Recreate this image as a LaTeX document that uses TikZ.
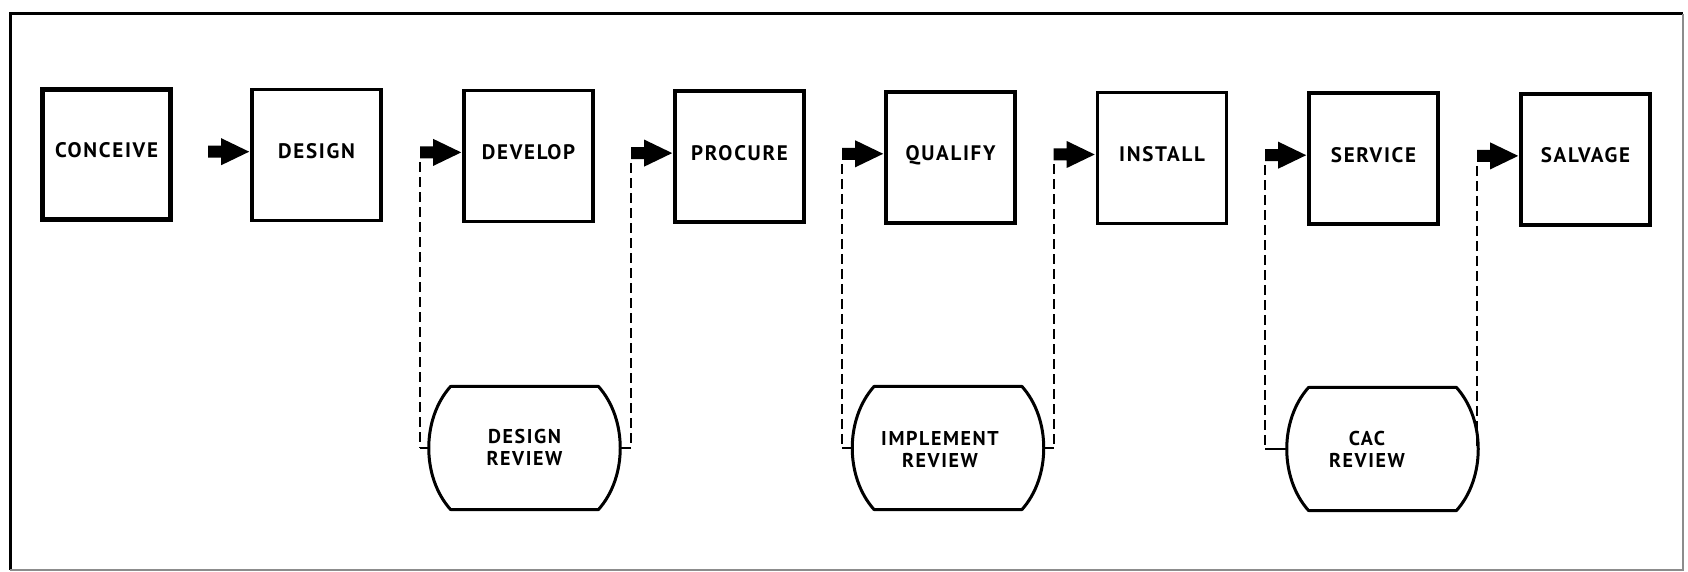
\documentclass[tikz,border=0pt]{standalone}
\usepackage{fontspec}
\setmainfont{PT Sans}[LetterSpace=8]
\usetikzlibrary{calc}
\begin{document}
\begin{tikzpicture}[x=0.5pt,y=-0.5pt,
  stage/.style={draw, line width=1.8pt, minimum width=64.5pt, minimum height=65.5pt,
    inner sep=0pt, text depth=4pt, font=\bfseries\fontsize{10.5}{11.5}\selectfont},
  review/.style={minimum width=95pt, minimum height=61.5pt, inner sep=0pt},
  revline/.style={line width=1.5pt, line join=round},
  revlabel/.style={align=center, inner sep=0pt, font=\bfseries\fontsize{10}{11}\selectfont},
  flowhead/.style={fill=black},
  trace/.style={line width=1pt, dash pattern=on 5pt off 2.5pt},
  tie/.style={line width=1pt}]

\useasboundingbox (0,0) rectangle (1688,572);

% outer frame
\draw[line width=1.5pt] (10,570) -- (10,14) -- (1683,14);
\draw[line width=1pt, black!45] (1683,14) -- (1683,570) -- (10,570);

% life-cycle stages
\node[stage, line width=2.5pt, minimum width=64pt, minimum height=65pt] (con) at (106.5,154.5) {CONCEIVE};
\node[stage] (des) at (316.5,155.2) {DESIGN};
\node[stage] (dev) at (528.5,155.9) {DEVELOP};
\node[stage] (pro) at (739.5,156.6) {PROCURE};
\node[stage] (qua) at (950.5,157.3) {QUALIFY};
\node[stage] (ins) at (1162,158) {INSTALL};
\node[stage] (ser) at (1373.5,158.7) {SERVICE};
\node[stage] (sal) at (1585.5,159.4) {SALVAGE};

% review stations
\node[review] (dr) at (524.5,448) {};
\node[review] (ir) at (948,448) {};
\node[review] (cr) at (1382.5,449) {};
\node[revlabel] (drl) at (524.5,447.5) {DESIGN\\REVIEW};
\node[revlabel] (irl) at (940,449.5) {IMPLEMENT\\REVIEW};
\node[revlabel] (crl) at (1367,449.5) {CAC\\REVIEW};

\foreach \r in {dr,ir,cr}{
  \begin{scope}[shift={(\r.center)}]
    \draw[revline] (-74,-61.5) -- (74,-61.5)
      .. controls (103,-29) and (103,29) .. (74,61.5)
      -- (-74,61.5)
      .. controls (-103,29) and (-103,-29) .. cycle;
  \end{scope}
}

% block arrows between stages: tip on the next stage, tail 41 units back
\foreach \a/\b [count=\i] in {con/des,des/dev,dev/pro,pro/qua,qua/ins,ins/ser,ser/sal}{
  \coordinate (t\i) at ($(\b.west)+(-1,-3.5)$);
  \coordinate (s\i) at ($(t\i)+(-41,0)$);
  \fill[flowhead] ($(s\i)+(0,-6)$) -- ($(s\i)+(13,-6)$) -- ($(s\i)+(13,-13.5)$)
    -- (t\i) -- ($(s\i)+(13,13.5)$) -- ($(s\i)+(13,6)$) -- ($(s\i)+(0,6)$) -- cycle;
}

% review traces from the arrow tails down to the review stations
\foreach \i/\r/\side in {2/dr/west,3/dr/east,4/ir/west,5/ir/east,6/cr/west,7/cr/east}{
  \coordinate (d\i) at ($(s\i)+(0,10)$);
  \coordinate (c\i) at (s\i |- \r.\side);
  \draw[trace] (d\i) -- (c\i);
  \draw[tie] (c\i) -- (\r.\side);
}
\end{tikzpicture}
\end{document}
